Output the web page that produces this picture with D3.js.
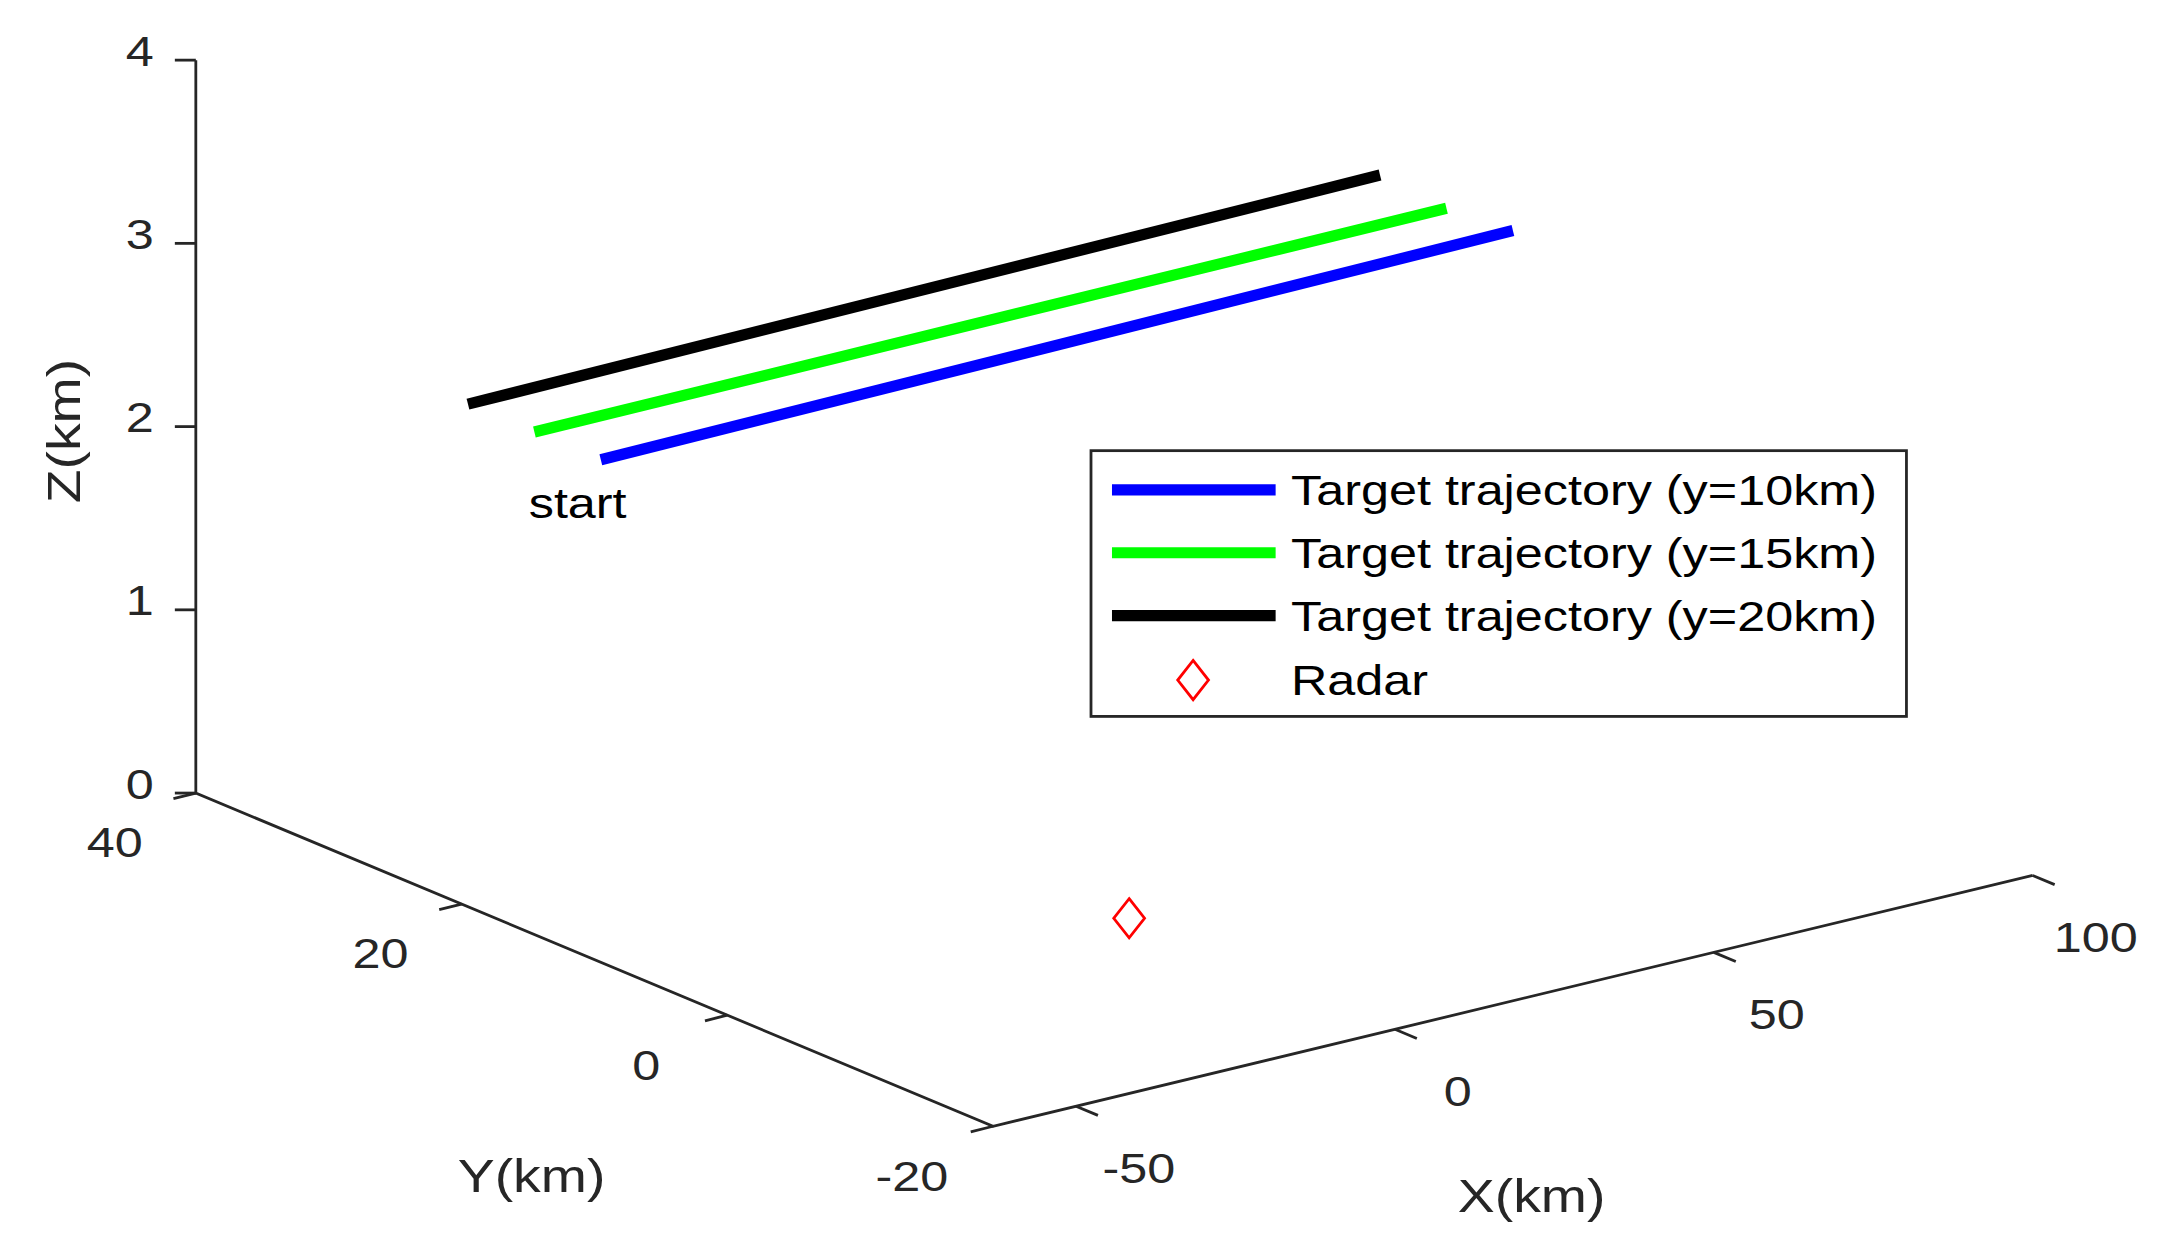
<!DOCTYPE html><html><head><meta charset="utf-8"><script src="https://d3js.org/d3.v7.min.js"></script>
<style>body{margin:0;background:#fff}</style></head><body><svg id="c"></svg><script>
const xTicks=[-50,0,50,100], yTicks=[-20,0,20,40], zTicks=[0,1,2,3,4];
const seriesNames=["Target trajectory (y=10km)","Target trajectory (y=15km)","Target trajectory (y=20km)"];
const seriesY=[10,15,20];
const seriesColors=["#0000ff","#00ff00","#000000"];
const trajX=[-62,81];
const trajZ=[[2.72,2.77],[2.72,2.74],[2.72,2.77]];
const radar=[0,0,0];
const xDom=[-63,100], yDom=[-20,40], zDom=[0,4];

const svg=d3.select("#c").attr("width",2182).attr("height",1244).attr("viewBox","0 0 1560 889");
const O=[710,805];
const sx=d3.scaleLinear().domain(xDom).range([0,163*4.56]);
const sy=d3.scaleLinear().domain(yDom).range([0,60]);
const sz=d3.scaleLinear().domain(zDom).range([0,524]);
const ex=[1,-1.1/4.56], ey=[-9.5,-3.97];
function P(x,y,z){const a=sx(x),b=sy(y),c=sz(z);return [O[0]+a*ex[0]+b*ey[0], O[1]+a*ex[1]+b*ey[1]-c];}
const font="'Liberation Sans',Arial,sans-serif";
function txt(parent,x,y,s,anchor,size,fill,rot){
  const t=parent.append("text").attr("transform",`translate(${x},${y})`+(rot?` rotate(${rot})`:"")+" scale(1.2,1)")
   .attr("text-anchor",anchor).attr("font-size",size).attr("font-family",font).attr("fill",fill||"#262626").text(s);return t;}
const g=svg.append("g").attr("stroke","#262626").attr("stroke-width",2).attr("fill","none");
const line=d3.line();
g.append("path").attr("d",line([P(xDom[0],yDom[1],zDom[1]),P(xDom[0],yDom[1],0),P(xDom[0],yDom[0],0),P(xDom[1],yDom[0],0)]));
zTicks.forEach(t=>{const p=P(xDom[0],yDom[1],t);g.append("path").attr("d",line([p,[p[0]-15,p[1]]]));
 txt(svg,p[0]-30,p[1]+4,t,"end",30);});
const yn=Math.hypot(ey[0],ey[1]);
yTicks.forEach(t=>{const p=P(xDom[0],t,0);g.append("path").attr("d",line([p,[p[0]-16,p[1]+4]]));
 txt(svg,p[0]-58,p[1]+46,t,"middle",30);});
xTicks.forEach(t=>{const p=P(t,yDom[0],0);g.append("path").attr("d",line([p,[p[0]-ey[0]/yn*17,p[1]-ey[1]/yn*17]]));
 txt(svg,p[0]+45,p[1]+55,t,"middle",30);});
txt(svg,57,308,"Z(km)","middle",33,null,-90);
txt(svg,380,852,"Y(km)","middle",33);
txt(svg,1095,866,"X(km)","middle",33);
seriesY.forEach((y,i)=>{svg.append("path").attr("d",line(trajX.map((x,j)=>P(x,y,trajZ[i][j])))).attr("stroke",seriesColors[i]).attr("stroke-width",8).attr("fill","none");});
txt(svg,378,370,"start","start",30,"#000");
function diamond(c){return line([[c[0],c[1]-14],[c[0]+11,c[1]],[c[0],c[1]+14],[c[0]-11,c[1]]])+"Z";}
svg.append("path").attr("d",diamond(P(...radar))).attr("stroke","#ff0000").attr("stroke-width",2).attr("fill","none");
const L=svg.append("g");
L.append("rect").attr("x",780).attr("y",322).attr("width",583).attr("height",190).attr("fill","#fff").attr("stroke","#262626").attr("stroke-width",2);
const rows=[350,395,440,486];
seriesNames.forEach((n,i)=>{L.append("line").attr("x1",795).attr("x2",912).attr("y1",rows[i]).attr("y2",rows[i]).attr("stroke",seriesColors[i]).attr("stroke-width",8);
 txt(L,923,rows[i]+11,n,"start",30,"#000");});
L.append("path").attr("d",diamond([853,rows[3]])).attr("stroke","#ff0000").attr("stroke-width",2).attr("fill","none");
txt(L,923,rows[3]+11,"Radar","start",30,"#000");
</script></body></html>
